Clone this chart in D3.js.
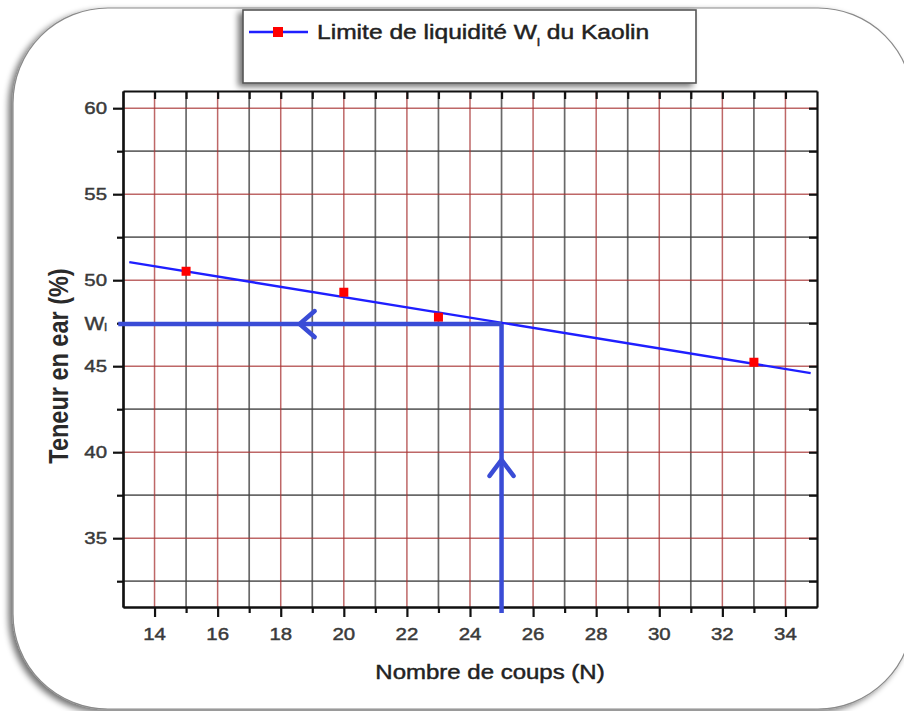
<!DOCTYPE html>
<html>
<head>
<meta charset="utf-8">
<script src="https://cdn.jsdelivr.net/npm/d3@7"></script>
<style>
  body { margin: 0; background: #fff; }
  svg { display: block; font-family: "Liberation Sans", Arial, sans-serif; }
</style>
</head>
<body>
<div id="chart"></div>
<script>
// values
var coups = [15, 20, 23, 33];
var teneur = [50.52, 49.3, 47.85, 45.23];
var fitCoups = [13.2, 34.8];
var fitTeneur = [51.05, 44.6];
var wl = 47.45;          // limite de liquidite lue a N = 25
var nLimit = 25;
var arrowLeft = 12.85;   // fleche horizontale part un peu avant l'axe
var arrowBottom = 30.65; // fleche verticale part un peu sous l'axe
var headX = 18.6;        // position de la pointe "<"
var headY = 39.55;       // position de la pointe "^"

var xMajor = [14, 16, 18, 20, 22, 24, 26, 28, 30, 32, 34];
var xMinor = [15, 17, 19, 21, 23, 25, 27, 29, 31, 33];
var yMajor = [35, 40, 45, 50, 55, 60];
var yMinor = [32.5, 37.5, 42.5, 47.5, 52.5, 57.5];

var width = 904;
var height = 711;
var stretch = 'scale(1.2,1)'; // the picture is a bit wider than tall

var x = d3.scaleLinear().domain([13, 35]).range([123, 817]);
var y = d3.scaleLinear().domain([31, 61]).range([607, 91]);

var svg = d3.select('#chart').append('svg')
  .attr('width', width)
  .attr('height', height);

var defs = svg.append('defs');
var f = defs.append('filter').attr('id', 'shadow')
  .attr('x', '-10%').attr('y', '-10%').attr('width', '120%').attr('height', '120%');
f.append('feGaussianBlur').attr('in', 'SourceAlpha').attr('stdDeviation', 3);
f.append('feOffset').attr('dx', -4).attr('dy', 3).attr('result', 'off');
f.append('feComponentTransfer').append('feFuncA').attr('type', 'linear').attr('slope', 0.55);
var m = f.append('feMerge');
m.append('feMergeNode');
m.append('feMergeNode').attr('in', 'SourceGraphic');

// rounded frame round the whole picture
svg.append('rect')
  .attr('x', 13).attr('y', 8)
  .attr('width', 900).attr('height', 701)
  .attr('rx', 95)
  .attr('fill', '#fff')
  .attr('stroke', '#8a8a8a')
  .attr('stroke-width', 1.2)
  .attr('filter', 'url(#shadow)');

// grid
var grid = svg.append('g');
grid.selectAll('.vminor').data(xMinor).enter().append('line')
  .attr('x1', d => x(d)).attr('x2', d => x(d))
  .attr('y1', y(31)).attr('y2', y(61))
  .attr('stroke', '#444').attr('stroke-opacity', 0.8).attr('stroke-width', 1.7);
grid.selectAll('.hminor').data(yMinor).enter().append('line')
  .attr('y1', d => y(d)).attr('y2', d => y(d))
  .attr('x1', x(13)).attr('x2', x(35))
  .attr('stroke', '#444').attr('stroke-opacity', 0.8).attr('stroke-width', 1.7);
grid.selectAll('.vmajor').data(xMajor).enter().append('line')
  .attr('x1', d => x(d)).attr('x2', d => x(d))
  .attr('y1', y(31)).attr('y2', y(61))
  .attr('stroke', '#a83434').attr('stroke-opacity', 0.75).attr('stroke-width', 1.5);
grid.selectAll('.hmajor').data(yMajor).enter().append('line')
  .attr('y1', d => y(d)).attr('y2', d => y(d))
  .attr('x1', x(13)).attr('x2', x(35))
  .attr('stroke', '#a83434').attr('stroke-opacity', 0.75).attr('stroke-width', 1.5);

// axes, ticks only (labels drawn below)
function styleAxis(g) {
  g.selectAll('path, line').attr('stroke', '#111').attr('stroke-width', 2.2);
  g.selectAll('text').remove();
}
svg.append('g').attr('transform', `translate(0,${y(31)})`)
  .call(d3.axisBottom(x).tickValues(xMajor).tickSize(10).tickSizeOuter(0)).call(styleAxis);
svg.append('g').attr('transform', `translate(0,${y(31)})`)
  .call(d3.axisBottom(x).tickValues(xMinor).tickSize(6).tickSizeOuter(0)).call(styleAxis);
svg.append('g').attr('transform', `translate(${x(13)},0)`)
  .call(d3.axisLeft(y).tickValues(yMajor).tickSize(10).tickSizeOuter(0)).call(styleAxis);
svg.append('g').attr('transform', `translate(${x(13)},0)`)
  .call(d3.axisLeft(y).tickValues(yMinor).tickSize(6).tickSizeOuter(0)).call(styleAxis);
svg.append('g').attr('transform', `translate(0,${y(61)})`)
  .call(d3.axisTop(x).tickValues(xMajor.concat(xMinor)).tickSize(-8).tickSizeOuter(0)).call(styleAxis);
svg.append('g').attr('transform', `translate(${x(35)},0)`)
  .call(d3.axisRight(y).tickValues(yMajor.concat(yMinor)).tickSize(-8).tickSizeOuter(0)).call(styleAxis);

// tick labels
function heavy(t, c) {
  t.attr('fill', c).attr('stroke', c).attr('stroke-width', 0.45);
}
svg.append('g').selectAll('text').data(xMajor).enter().append('text')
  .attr('transform', d => `translate(${x(d)},640) ${stretch}`)
  .attr('text-anchor', 'middle')
  .attr('font-size', 17)
  .call(heavy, '#3a3a3a')
  .text(d => d);
svg.append('g').selectAll('text').data(yMajor).enter().append('text')
  .attr('transform', d => `translate(107,${y(d) + 6}) ${stretch}`)
  .attr('text-anchor', 'end')
  .attr('font-size', 17)
  .call(heavy, '#3a3a3a')
  .text(d => d);

var wlLabel = svg.append('text')
  .attr('transform', `translate(107,${y(wl) + 6}) ${stretch}`)
  .attr('text-anchor', 'end')
  .attr('font-size', 17.5)
  .call(heavy, '#3a3a3a');
wlLabel.append('tspan').text('W');
wlLabel.append('tspan').attr('font-size', 10).attr('dy', 1).text('l');

// axis titles
svg.append('text')
  .attr('transform', `translate(490,679) ${stretch}`)
  .attr('text-anchor', 'middle')
  .attr('font-size', 20)
  .call(heavy, '#222')
  .text('Nombre de coups (N)');
svg.append('text')
  .attr('transform', 'translate(68,366) rotate(-90) scale(1,1.2)')
  .attr('text-anchor', 'middle')
  .attr('font-size', 23.5)
  .attr('font-weight', 'bold')
  .attr('fill', '#2a2a2a')
  .text('Teneur en ear (%)');

// fit line and points
var line = d3.line().x(d => x(d[0])).y(d => y(d[1]));
svg.append('path')
  .datum(d3.zip(fitCoups, fitTeneur))
  .attr('d', line)
  .attr('fill', 'none')
  .attr('stroke', '#1f1fff')
  .attr('stroke-width', 2.4);

svg.append('g').selectAll('rect').data(d3.zip(coups, teneur)).enter().append('rect')
  .attr('x', d => x(d[0]) - 4.5)
  .attr('y', d => y(d[1]) - 4.5)
  .attr('width', 9).attr('height', 9)
  .attr('fill', '#ff0000');

// reading arrows for Wl
var arrowColor = '#3a4cd6';
var arrows = svg.append('g')
  .attr('fill', 'none')
  .attr('stroke', arrowColor)
  .attr('stroke-width', 4.5)
  .attr('stroke-linecap', 'round')
  .attr('stroke-linejoin', 'round');
arrows.append('path').attr('d', line([[arrowLeft, wl], [nLimit, wl]])).attr('stroke-linecap', 'butt');
arrows.append('path').attr('d', line([[nLimit, arrowBottom], [nLimit, wl]])).attr('stroke-linecap', 'butt');
arrows.append('path')
  .attr('d', `M${x(headX) + 15},${y(wl) - 13}L${x(headX)},${y(wl)}L${x(headX) + 15},${y(wl) + 13}`);
arrows.append('path')
  .attr('d', `M${x(nLimit) - 12},${y(headY) + 16}L${x(nLimit)},${y(headY)}L${x(nLimit) + 12},${y(headY) + 16}`);

// legend
var legend = svg.append('g');
legend.append('rect')
  .attr('x', 243).attr('y', 10)
  .attr('width', 453).attr('height', 73)
  .attr('fill', '#fff')
  .attr('stroke', '#555')
  .attr('stroke-width', 1.6)
  .attr('filter', 'url(#shadow)');
legend.append('line')
  .attr('x1', 249).attr('x2', 308)
  .attr('y1', 32).attr('y2', 32)
  .attr('stroke', '#1f1fff').attr('stroke-width', 2.5);
legend.append('rect')
  .attr('x', 278 - 5).attr('y', 32 - 5)
  .attr('width', 10).attr('height', 10)
  .attr('fill', '#ff0000');
var lt = legend.append('text')
  .attr('transform', `translate(317,39) ${stretch}`)
  .attr('font-size', 20.5)
  .call(heavy, '#222');
lt.append('tspan').text('Limite de liquidité W');
lt.append('tspan').attr('font-size', 11).attr('dy', 7).text('l');
lt.append('tspan').attr('dy', -7).text('  du Kaolin');
</script>
</body>
</html>
